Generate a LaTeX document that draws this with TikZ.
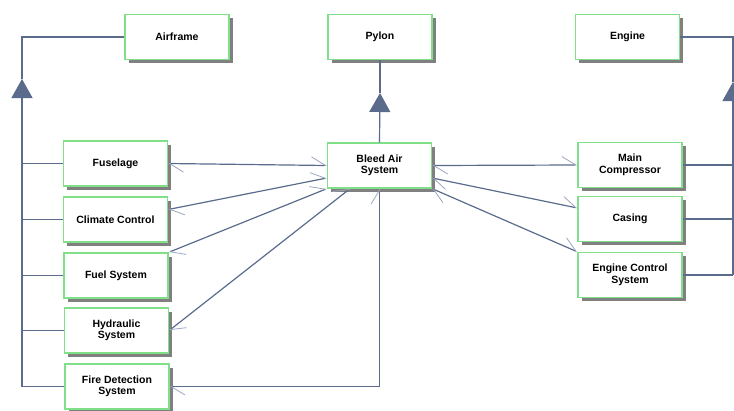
\documentclass[tikz,border=0pt]{standalone}
\usepackage{fontspec}
\setmainfont{Liberation Sans}
\usetikzlibrary{arrows.meta,shadows}
\definecolor{edgeblue}{HTML}{5A6B8C}
\definecolor{barbblue}{HTML}{9AA6C2}
\definecolor{boxgreen}{HTML}{80E08A}
\begin{document}
\begin{tikzpicture}[x=1pt, y=-1pt,
        block/.style={rectangle, draw=boxgreen, line width=1.4pt, fill=white,
            minimum width=104pt, minimum height=45pt, align=center,
            font=\bfseries\fontsize{10.5}{11.5}\selectfont,
            drop shadow={shadow xshift=3.5pt, shadow yshift=-3.5pt, fill=black!50, opacity=1}},
        link/.style={draw=edgeblue, line width=1.2pt},
        gen/.style={link, -{Triangle[width=21pt, length=19pt]}},
        assoc/.style={link, {Straight Barb[harpoon, length=14pt, width=17pt, line width=0.8pt, color=barbblue]}-{Straight Barb[harpoon, length=14pt, width=17pt, line width=0.8pt, color=barbblue]}}]
    \useasboundingbox (0,0) rectangle (734,410);
    \node [block] (airframe) at (177,37) {Airframe};
    \node [block] (pylon) at (380,37) {Pylon};
    \node [block] (engine) at (627.5,37) {Engine};
    \node [block] (fuselage) at (115.5,163.5) {Fuselage};
    \node [block] (climate) at (115.5,219.5) {Climate Control};
    \node [block] (fuel) at (116,275.5) {Fuel System};
    \node [block] (hydraulic) at (116.5,330.5) {Hydraulic\\System};
    \node [block] (fire) at (117,386.5) {Fire Detection\\System};
    \node [block] (bleed) at (379.5,165.5) {Bleed Air\\System};
    \node [block] (compressor) at (630,165) {Main\\Compressor};
    \node [block] (casing) at (630,219) {Casing};
    \node [block] (control) at (630,275) {Engine Control\\System};
    \coordinate (ltip) at (22,79);
    \coordinate (lfoot) at (22,386.5);
    \coordinate (rtip) at (733,82);
    \coordinate (rfoot) at (733,275);
    \coordinate (ptip) at (380,93);
    \draw [gen] (lfoot) -- (ltip);
    \draw [link] (ltip) |- (airframe.west);
    \draw [link] (fuselage.west) -- (fuselage.west -| ltip);
    \draw [link] (climate.west) -- (climate.west -| ltip);
    \draw [link] (fuel.west) -- (fuel.west -| ltip);
    \draw [link] (hydraulic.west) -- (hydraulic.west -| ltip);
    \draw [link] (fire.west) -- (lfoot);
    \draw [gen] (rfoot) -- (rtip);
    \draw [link] (rtip) |- (engine.east);
    \draw [link] (compressor.east) -- (compressor.east -| rtip);
    \draw [link] (casing.east) -- (casing.east -| rtip);
    \draw [link] (control.east) -- (rfoot);
    \draw [gen] (bleed.north) -- (ptip);
    \draw [link] (ptip) -- (pylon.south);
    \draw [assoc] (fuselage.east) -- (bleed.west);
    \draw [assoc] ([yshift=10pt]climate.east) -- ([yshift=-12.5pt]bleed.west);
    \draw [assoc] (fuel.north east) -- (bleed.south west);
    \draw [assoc] (hydraulic.east) -- ([xshift=-29.5pt]bleed.south);
    \draw [assoc] (fire.east) -| (bleed.south);
    \draw [assoc] (bleed.east) -- (compressor.west);
    \draw [assoc] ([yshift=-12.5pt]bleed.east) -- ([yshift=11pt]casing.west);
    \draw [assoc] (bleed.south east) -- (control.north west);
\end{tikzpicture}
\end{document}
